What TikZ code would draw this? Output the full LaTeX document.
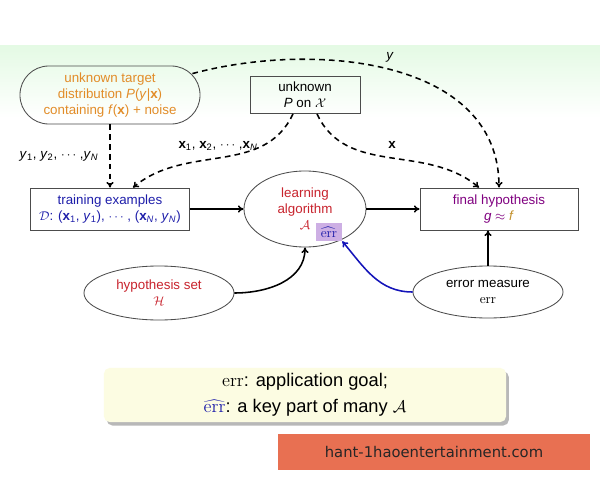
\documentclass[tikz,border=0pt]{standalone}
\usepackage{fontspec}
\setsansfont{Liberation Sans}
\newfontfamily\bannerfont{DejaVu Sans}
\usetikzlibrary{shapes.geometric,shadows,arrows.meta}
\definecolor{corange}{RGB}{226,140,40}
\definecolor{cblue}{RGB}{30,30,170}
\definecolor{cred}{RGB}{200,35,45}
\definecolor{cpurple}{RGB}{128,0,128}
\definecolor{cgold}{RGB}{195,145,45}
\definecolor{errfill}{RGB}{205,175,228}
\definecolor{arrblue}{RGB}{20,20,185}
\definecolor{notefill}{RGB}{252,252,226}
\definecolor{bannerfill}{RGB}{232,112,82}
\definecolor{bgreen}{RGB}{228,250,228}
\newcommand\vx{\textbf{x}}
\newcommand\iv[1]{\textit{#1}}
\begin{document}
\begin{tikzpicture}[x=0.025cm,y=-0.025cm,
  every node/.style={font=\sffamily\fontsize{9.5}{11.4}\selectfont, align=center, inner sep=1pt},
  boxnode/.style={draw=black!70, line width=0.6pt, rectangle},
  ellnode/.style={draw=black!70, line width=0.6pt, ellipse},
  dasharrow/.style={-{To[length=4pt,width=5pt]}, line width=1.1pt, dash pattern=on 4pt off 3pt},
  solarrow/.style={-{To[length=4pt,width=5pt]}, line width=1.1pt},
  lbl/.style={inner sep=1pt}]
\useasboundingbox (0,0) rectangle (600,480);
\fill[white] (0,0) rectangle (600,480);
\shade[top color=bgreen, bottom color=white] (0,45) rectangle (600,118);

% nodes
\node[boxnode, rounded corners=0.72cm, minimum width=4.5cm, minimum height=1.45cm, text=corange] (target) at (110,95)
  {unknown target\\ distribution \iv{P}(\iv{y}|\vx)\\ containing \iv{f}(\vx) + noise};
\node[boxnode, minimum width=2.75cm, minimum height=0.925cm] (pbox) at (305,95)
  {unknown\\ \iv{P} on $\mathcal{X}$};
\node[boxnode, minimum width=3.975cm, minimum height=1.05cm, text=cblue] (train) at (110,209)
  {training examples\\ $\mathcal{D}$: (\vx\textsubscript{1}, \iv{y}\textsubscript{1}), $\cdots$ , (\vx\textsubscript{\iv{N}}, \iv{y}\textsubscript{\iv{N}})};
\node[ellnode, minimum width=3.05cm, minimum height=1.9cm, text=cred] (learn) at (305,209)
  {learning\\ algorithm\\ $\mathcal{A}$};
\node[fill=errfill, minimum width=0.65cm, minimum height=0.45cm, inner sep=0pt, text=cblue] (errbox) at (329,232)
  {$\widehat{\textrm{err}}$};
\node[boxnode, minimum width=3.95cm, minimum height=1.05cm, text=cpurple] (final) at (499,209)
  {final hypothesis\\ \iv{g} $\approx$ \textcolor{cgold}{\iv{f}}};
\node[ellnode, minimum width=3.75cm, minimum height=1.35cm, text=cred] (hset) at (159,293)
  {hypothesis set\\ $\mathcal{H}$};
\node[ellnode, minimum width=3.75cm, minimum height=1.3cm] (emeas) at (488,292)
  {error measure\\ \textrm{err}};

% edges
\draw[dasharrow] (target.south) -- (train.north);
\node[lbl, anchor=west] (ylist) at (18,156) {\iv{y}\textsubscript{1}, \iv{y}\textsubscript{2}, $\cdots$ ,\iv{y}\textsubscript{\iv{N}}};

\draw[dasharrow] ([xshift=-0.3cm]pbox.south) to[out=-115, in=40] ([xshift=0.575cm]train.north);
\node[lbl] (xlist) at (218,146) {\vx\textsubscript{1}, \vx\textsubscript{2}, $\cdots$ ,\vx\textsubscript{\iv{N}}};

\draw[dasharrow] ([xshift=0.3cm]pbox.south) to[out=-65, in=140] ([xshift=-0.5cm]final.north);
\node[lbl] (xlab) at (392,145) {\vx};

\draw[dasharrow] ([xshift=-0.2cm, yshift=-0.2cm]target.north east) to[out=15, in=90] (final.north);
\node[lbl] (ylab) at (390,57) {\iv{y}};

\draw[solarrow] (train.east) -- (learn.west);
\draw[solarrow] (learn.east) -- (final.west);
\draw[solarrow] (hset.east) to[out=0, in=-90] (learn.south);
\draw[solarrow, arrblue] (emeas.west) to[out=180, in=-50] (errbox.south east);
\draw[solarrow] (emeas.north) -- (final.south -| emeas.north);

% note
\node[fill=notefill, rounded corners=4pt, minimum width=10.05cm, minimum height=1.35cm,
  drop shadow={shadow xshift=2pt, shadow yshift=-2.5pt, fill=black!55},
  font=\sffamily\fontsize{13}{15.6}\selectfont] (note) at (305,395)
  {\textrm{err}: application goal;\\[3pt] \textcolor{cblue}{$\widehat{\textrm{err}}$}: a key part of many $\mathcal{A}$};

% banner
\node[fill=bannerfill, minimum width=7.8cm, minimum height=0.875cm, font=\bannerfont\fontsize{10.5}{12}\selectfont, text=black!85] (banner) at (434,452)
  {hant-1haoentertainment.com};
\end{tikzpicture}
\end{document}
